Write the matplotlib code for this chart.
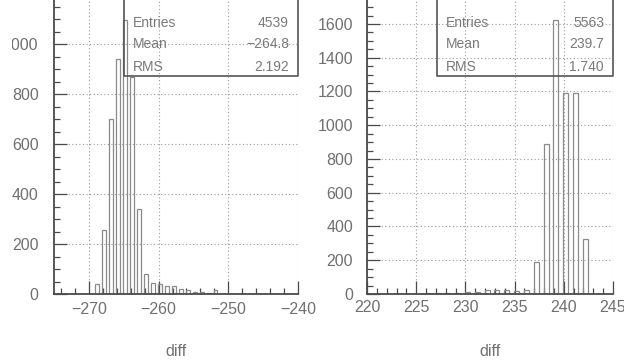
import matplotlib
matplotlib.use("Agg")
import matplotlib.pyplot as plt
from matplotlib.ticker import MultipleLocator
from matplotlib.transforms import Bbox, TransformedBbox

# left histogram: bin centres and contents
left_centers = [-268.8, -267.8, -266.8, -265.8, -264.8, -263.8, -262.8, -261.8, -260.8,
                -259.8, -258.8, -257.8, -256.8, -255.8, -254.8, -253.8, -252.8, -251.8]
left_counts = [40, 256, 700, 940, 1096, 868, 340, 81, 45,
               39, 31, 31, 19, 15, 10, 8, 3, 16]
left_stats = [("Entries", "4539"), ("Mean", "\u2212264.8"), ("RMS", "2.192")]

# right histogram
right_centers = [226.2, 227.2, 228.2, 229.2, 230.2, 231.2, 232.2, 233.2, 234.2,
                 235.2, 236.2, 237.2, 238.2, 239.2, 240.2, 241.2, 242.2]
right_counts = [4, 6, 8, 8, 10, 12, 22, 26, 26,
                18, 26, 188, 889, 1624, 1189, 1189, 324]
right_stats = [("Entries", "5563"), ("Mean", "239.7"), ("RMS", "1.740")]

W, H = 624, 363
fig = plt.figure(figsize=(W / 100, H / 100), dpi=100)

tick_font = {"family": "Liberation Sans", "size": 11.5}
grey = "#707070"


def hist_panel(rect, centers, counts, stats, xlim, ylim, xmaj, xmin, ymaj, ymin, ypad, xpad):
    ax = fig.add_axes([rect[0] / W, 1 - rect[3] / H, (rect[2] - rect[0]) / W, (rect[3] - rect[1]) / H])
    ax.bar(centers, counts, width=0.5, facecolor="none", edgecolor="#8a8a8a", linewidth=0.9, zorder=2)
    ax.set_xlim(*xlim)
    ax.set_ylim(*ylim)
    ax.xaxis.set_major_locator(MultipleLocator(xmaj))
    ax.xaxis.set_minor_locator(MultipleLocator(xmin))
    ax.yaxis.set_major_locator(MultipleLocator(ymaj))
    ax.yaxis.set_minor_locator(MultipleLocator(ymin))
    ax.grid(True, which="major", color="#9a9a9a", linestyle=(0, (1, 2.2)), linewidth=0.8, zorder=1)
    for s in ("top", "right"):
        ax.spines[s].set_visible(False)
    for s in ("left", "bottom"):
        ax.spines[s].set_color("#4a4a4a")
        ax.spines[s].set_linewidth(1.3)
        ax.spines[s].set_zorder(4)
    ax.tick_params(which="both", direction="in", color="#4a4a4a", width=0.9)
    ax.tick_params(which="major", length=9.5)
    ax.tick_params(which="minor", length=4.3)
    ax.tick_params(axis="y", pad=ypad)
    ax.tick_params(axis="x", pad=xpad)
    for lab in ax.get_xticklabels() + ax.get_yticklabels():
        lab.set_fontfamily(tick_font["family"])
        lab.set_fontsize(tick_font["size"])
        lab.set_color(grey)
    ax.set_xlabel("diff", fontfamily=tick_font["family"], fontsize=tick_font["size"], color=grey)
    ax.xaxis.set_label_coords(0.5, -58 / (rect[3] - rect[1]))
    ax.xaxis.label.set_va("center")

    # statistics box (open at the top)
    bx0 = 70 / (rect[2] - rect[0])
    by0 = (rect[3] - 76) / (rect[3] - rect[1])
    ax.plot([bx0, bx0, 1.0, 1.0], [1.05, by0, by0, 1.05], transform=ax.transAxes,
            color="#555555", linewidth=1.2, clip_on=False, zorder=5)
    rows = [23, 44, 67]
    for (name, val), yp in zip(stats, rows):
        yf = (rect[3] - yp) / (rect[3] - rect[1])
        ax.text(bx0 + 9 / (rect[2] - rect[0]), yf, name, transform=ax.transAxes, ha="left", va="center",
                fontfamily="Liberation Sans", fontsize=10, color="#7a7a7a", zorder=6)
        ax.text(1 - 9 / (rect[2] - rect[0]), yf, val, transform=ax.transAxes, ha="right", va="center",
                fontfamily="Liberation Sans", fontsize=10, color="#7a7a7a", zorder=6)
    return ax


# rect = (left px, top px, right px, bottom px)
ax1 = hist_panel((54, 0, 298, 294), left_centers, left_counts, left_stats,
                 (-275, -240), (0, 1176), 10, 2, 200, 50, 11, 6)
ax2 = hist_panel((367, 0, 613, 294), right_centers, right_counts, right_stats,
                 (220, 245), (0, 1742), 5, 1, 200, 50, 10, 4)

# the left panel's labels start a little inside the figure edge
clip = TransformedBbox(Bbox([[12 / W, 0], [1, 1]]), fig.transFigure)
for lab in ax1.get_yticklabels():
    lab.set_clip_on(True)
    lab.set_clip_box(clip)

fig.savefig("out.png", dpi=100)
